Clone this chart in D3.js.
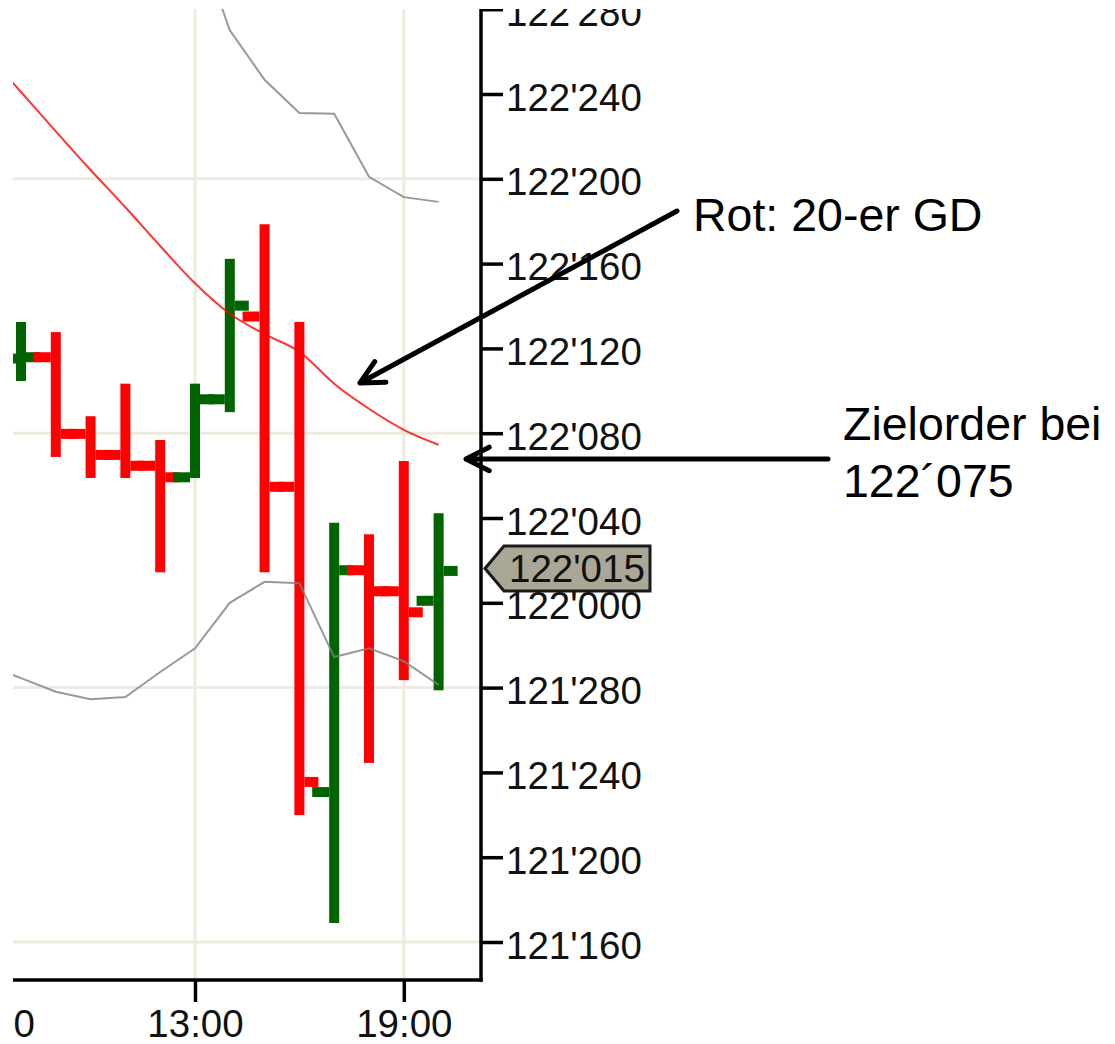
<!DOCTYPE html>
<html><head><meta charset="utf-8">
<script src="https://cdn.jsdelivr.net/npm/d3@7"></script>
<style>html,body{margin:0;padding:0;background:#fff;} svg{display:block}</style>
</head><body>
<script>
// ---- data ----
const hours  = [8, 9, 10, 11, 12, 13, 14, 15, 16, 17, 18, 19, 20];
const opens  = [122.360, 122.362, 122.249, 122.218, 122.202, 122.185, 122.300, 122.422, 122.171, 121.721, 122.048, 122.017, 122.003];
const highs  = [122.414, 122.399, 122.275, 122.323, 122.240, 122.323, 122.507, 122.558, 122.414, 122.118, 122.101, 122.209, 122.132];
const lows   = [122.327, 122.215, 122.184, 122.184, 122.045, 122.184, 122.281, 122.045, 121.687, 121.528, 121.764, 121.886, 121.871];
const closes = [122.362, 122.249, 122.218, 122.202, 122.185, 122.300, 122.438, 122.171, 121.736, 122.048, 122.017, 121.986, 122.047];

const maHours = [7, 8, 9, 10, 11, 12, 13, 14, 15, 16, 17, 18, 19, 20];
const maValues = [122.810, 122.753, 122.695, 122.638, 122.583, 122.526, 122.471, 122.426, 122.396, 122.370, 122.323, 122.286, 122.255, 122.233];

const upperHours = [13, 14, 15, 16, 17, 18, 19, 20];
const upperValues = [122.990, 122.844, 122.771, 122.722, 122.721, 122.628, 122.598, 122.591];

const lowerHours = [7, 8, 9, 10, 11, 12, 13, 14, 15, 16, 17, 18, 19, 20];
const lowerValues = [121.908, 121.889, 121.869, 121.858, 121.861, 121.898, 121.933, 122.000, 122.031, 122.029, 121.920, 121.933, 121.914, 121.879];

const yTickValues = [121.5, 121.625, 121.75, 121.875, 122.0, 122.125, 122.25, 122.375, 122.5, 122.625, 122.75, 122.875];
const yTickLabels = ["121'160", "121'200", "121'240", "121'280", "122'000", "122'040", "122'080", "122'120", "122'160", "122'200", "122'240", "122'280"];
const yGridValues = [121.5, 121.875, 122.25, 122.625];
const xTickHours = [7, 13, 19];
const xTickLabels = ["07:00", "13:00", "19:00"];
const xGridHours = [13, 19];
const lastPriceLabel = "122'015";
const maLabel = "Rot: 20-er GD";
const orderLabel = ["Zielorder bei", "122\u00b4075"];
const maPointer = [17.74, 122.324];   // where the first arrow points (hour, price)
const orderLevel = 122.212;            // level the second arrow points to

// ---- layout ----
const W = 1115, H = 1044;
const L = 13, R = 481, T = 9, B = 980;
const FONT = "'Liberation Sans', Arial, sans-serif";
const GRID = "#EEEBDF";
const UP = "#006400", DOWN = "#FF0000";

const svg = d3.select("body").append("svg").attr("width", W).attr("height", H);
const x = d3.scaleLinear().domain([8, 20]).range([21, 438.6]);
const y = d3.scaleLinear().domain([121.5, 122.75]).range([942, 94]);

svg.append("defs").append("clipPath").attr("id", "plot")
  .append("rect").attr("x", L).attr("y", T).attr("width", R - L).attr("height", B - T);

const plot = svg.append("g").attr("clip-path", "url(#plot)");

// grid
plot.selectAll("line.hg").data(yGridValues).join("line")
  .attr("x1", L).attr("x2", R).attr("y1", d => y(d)).attr("y2", d => y(d))
  .attr("stroke", GRID).attr("stroke-width", 3);
plot.selectAll("line.vg").data(xGridHours).join("line")
  .attr("x1", d => x(d)).attr("x2", d => x(d)).attr("y1", T).attr("y2", B)
  .attr("stroke", GRID).attr("stroke-width", 3);

// OHLC bars
const bars = hours.map((h, i) => ({h, o: opens[i], hi: highs[i], lo: lows[i], c: closes[i]}));
const BW = 10, OT = 17, CT = 14;
const g = plot.selectAll("g.bar").data(bars).join("g")
  .attr("fill", d => d.c >= d.o ? UP : DOWN);
g.append("rect").attr("x", d => x(d.h) - BW / 2).attr("width", BW)
  .attr("y", d => y(d.hi)).attr("height", d => y(d.lo) - y(d.hi));
g.append("rect").attr("x", d => x(d.h) - BW / 2 - OT).attr("width", OT)
  .attr("y", d => y(d.o) - BW / 2).attr("height", BW);
g.append("rect").attr("x", d => x(d.h) + BW / 2).attr("width", CT)
  .attr("y", d => y(d.c) - BW / 2).attr("height", BW);

// indicator lines
const line = d3.line().x(d => x(d[0])).y(d => y(d[1]));
plot.append("path").datum(upperHours.map((h, i) => [h, upperValues[i]]))
  .attr("d", line).attr("fill", "none").attr("stroke", "#808080").attr("stroke-width", 2).attr("opacity", 0.8);
plot.append("path").datum(lowerHours.map((h, i) => [h, lowerValues[i]]))
  .attr("d", line).attr("fill", "none").attr("stroke", "#808080").attr("stroke-width", 2).attr("opacity", 0.8);
plot.append("path").datum(maHours.map((h, i) => [h, maValues[i]]))
  .attr("d", line.curve(d3.curveMonotoneX)).attr("fill", "none").attr("stroke", "#FF0000").attr("stroke-width", 2).attr("opacity", 0.8);

// right axis
const yAxis = d3.axisRight(y).tickValues(yTickValues)
  .tickFormat((d, i) => yTickLabels[i]).tickSize(22).tickSizeOuter(0).tickPadding(3);
const ya = svg.append("g").attr("transform", `translate(${R},0)`).call(yAxis);
ya.select(".domain").remove();
ya.selectAll(".tick line").attr("stroke", "#000").attr("stroke-width", 3.5);
ya.selectAll(".tick text").attr("font-family", FONT).attr("font-size", 38.5)
  .attr("fill", "#111").attr("dy", "0.42em");

// bottom axis
const xAxis = d3.axisBottom(x).tickValues(xTickHours)
  .tickFormat((d, i) => xTickLabels[i]).tickSize(22).tickSizeOuter(0).tickPadding(8);
const xa = svg.append("g").attr("transform", `translate(0,${B})`).call(xAxis);
xa.select(".domain").remove();
xa.selectAll(".tick line").attr("stroke", "#000").attr("stroke-width", 3.5);
xa.selectAll(".tick text").attr("font-family", FONT).attr("font-size", 38.5).attr("fill", "#111");

// axis lines
svg.append("line").attr("x1", R).attr("x2", R).attr("y1", T).attr("y2", B + 1.75)
  .attr("stroke", "#000").attr("stroke-width", 3.5);
svg.append("line").attr("x1", L).attr("x2", R + 1.75).attr("y1", B).attr("y2", B)
  .attr("stroke", "#000").attr("stroke-width", 3.5);

// price tag at last close
const cy = y(closes[closes.length - 1]) - 2.5;
const tag = svg.append("g");
tag.append("path")
  .attr("d", `M${R + 4},${cy} L${R + 23},${cy - 22.5} L${R + 169},${cy - 22.5} L${R + 169},${cy + 22.5} L${R + 23},${cy + 22.5} Z`)
  .attr("fill", "#ABA797").attr("stroke", "#1a1a1a").attr("stroke-width", 3);
tag.append("text").attr("x", R + 28).attr("y", cy + 14)
  .attr("font-family", FONT).attr("font-size", 38.5).attr("fill", "#111").text(lastPriceLabel);

// crop of the original screenshot (top and left margins)
svg.append("rect").attr("x", 0).attr("y", 0).attr("width", W).attr("height", T).attr("fill", "#fff");
svg.append("rect").attr("x", 0).attr("y", 0).attr("width", L).attr("height", H).attr("fill", "#fff");

// annotations
function arrow(x1, y1, x2, y2) {
  const a = Math.atan2(y1 - y2, x1 - x2), len = 26, sp = 0.47;
  const p = d3.path();
  p.moveTo(x1, y1); p.lineTo(x2, y2);
  p.moveTo(x2 + len * Math.cos(a + sp), y2 + len * Math.sin(a + sp));
  p.lineTo(x2, y2);
  p.lineTo(x2 + len * Math.cos(a - sp), y2 + len * Math.sin(a - sp));
  svg.append("path").attr("d", p.toString()).attr("fill", "none").attr("stroke", "#000")
    .attr("stroke-width", 5).attr("stroke-linecap", "round").attr("stroke-linejoin", "round");
}
arrow(677, 211, x(maPointer[0]), y(maPointer[1]));
arrow(828, y(orderLevel), R - 15, y(orderLevel));

svg.append("text").attr("x", 693).attr("y", 231).attr("font-family", FONT).attr("font-size", 46.5)
  .attr("fill", "#000").text(maLabel);
svg.append("text").attr("x", 843).attr("y", 440).attr("font-family", FONT).attr("font-size", 46.5)
  .attr("fill", "#000").text(orderLabel[0]);
svg.append("text").attr("x", 843).attr("y", 497).attr("font-family", FONT).attr("font-size", 46.5)
  .attr("fill", "#000").text(orderLabel[1]);
</script>
</body></html>
